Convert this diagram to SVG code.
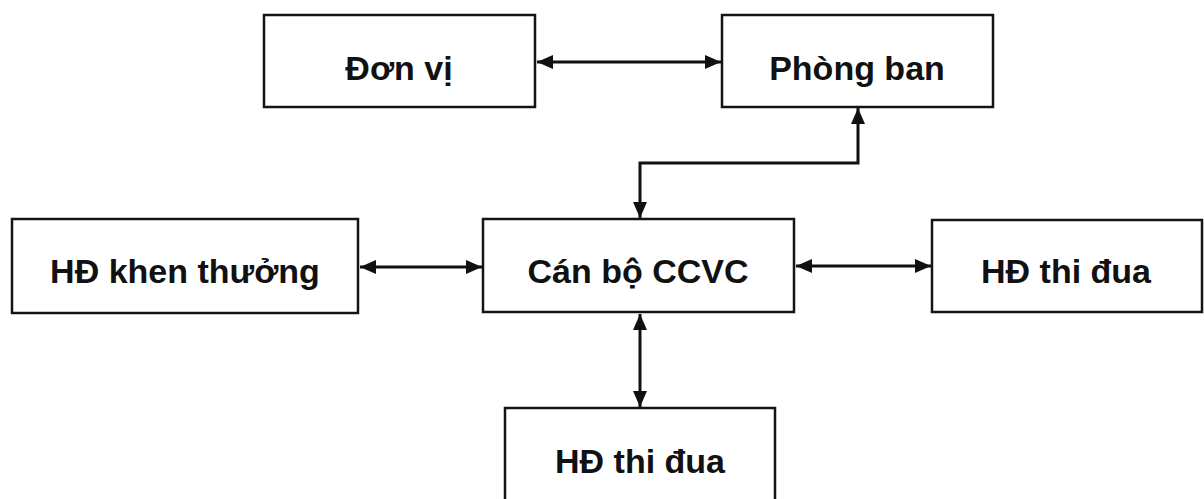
<svg xmlns="http://www.w3.org/2000/svg" width="1204" height="499" viewBox="0 0 1204 499">
  <style>
    .box { fill: #ffffff; stroke: #141414; stroke-width: 2.5; }
    .lbl { font-family: "Liberation Sans", Arial, sans-serif; font-weight: bold; font-size: 34px; fill: #111111; text-anchor: middle; }
    .conn { fill: none; stroke: #111111; stroke-width: 3; marker-start: url(#ah); marker-end: url(#ah); }
  </style>
  <defs>
    <marker id="ah" markerUnits="userSpaceOnUse" viewBox="0 0 16 16" refX="16" refY="8" markerWidth="16" markerHeight="16" orient="auto-start-reverse">
      <path d="M0,1 L16,8 L0,15 Z" fill="#111111"/>
    </marker>
  </defs>
  <rect width="1204" height="499" fill="#ffffff"/>

  <g id="node-donvi">
    <rect class="box" x="264" y="15" width="271" height="92"/>
    <text class="lbl" x="399" y="80">Đơn vị</text>
  </g>
  <g id="node-phongban">
    <rect class="box" x="722" y="15" width="271" height="92"/>
    <text class="lbl" x="857" y="80">Phòng ban</text>
  </g>
  <g id="node-khenthuong">
    <rect class="box" x="12" y="219" width="346" height="94"/>
    <text class="lbl" x="185" y="283">HĐ khen thưởng</text>
  </g>
  <g id="node-canbo">
    <rect class="box" x="483" y="219" width="311" height="93"/>
    <text class="lbl" x="638" y="283">Cán bộ CCVC</text>
  </g>
  <g id="node-thidua-right">
    <rect class="box" x="932" y="220" width="270" height="92"/>
    <text class="lbl" x="1066" y="283">HĐ thi đua</text>
  </g>
  <g id="node-thidua-bottom">
    <rect class="box" x="505" y="408" width="270" height="100"/>
    <text class="lbl" x="640" y="473">HĐ thi đua</text>
  </g>

  <g id="connectors">
    <line class="conn" x1="537" y1="62" x2="721" y2="62"/>
    <polyline class="conn" points="640,218 640,163 858,163 858,108"/>
    <line class="conn" x1="360" y1="267" x2="482" y2="267"/>
    <line class="conn" x1="796" y1="266" x2="931" y2="266"/>
    <line class="conn" x1="640" y1="314" x2="640" y2="407"/>
  </g>
</svg>
